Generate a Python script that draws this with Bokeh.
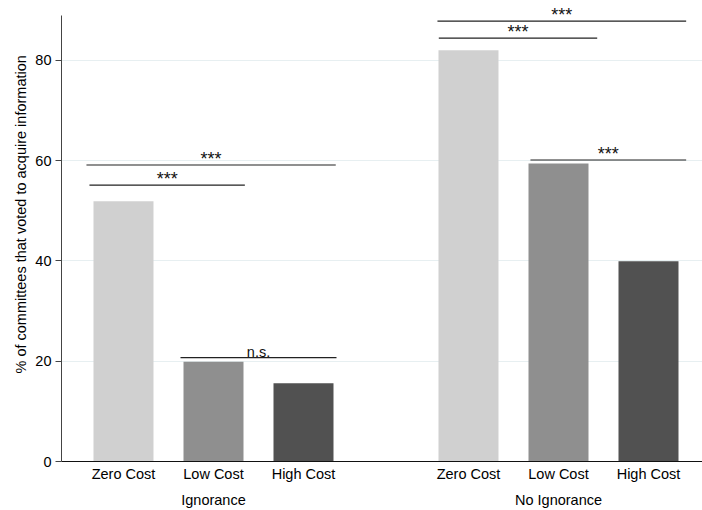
from bokeh.plotting import figure
from bokeh.models import Range1d, FixedTicker, LinearAxis, Title, ColumnDataSource
from bokeh.core.properties import value
from bokeh.embed import file_html
from bokeh.resources import INLINE

# ---- data ----
groups = ["Ignorance", "No Ignorance"]
costs = ["Zero Cost", "Low Cost", "High Cost"]
ignorance_pct = [51.9, 19.9, 15.6]
no_ignorance_pct = [82.0, 59.4, 39.9]
y_ticks = [0, 20, 40, 60, 80]
y_axis_top = 88.96
y_label = "% of committees that voted to acquire information"

# significance brackets (x in slot units, y in %)
sig_x0 = [3.73, 3.53, 9.80, 26.93, 27.02, 33.13]
sig_x1 = [14.09, 20.15, 20.20, 43.51, 37.58, 43.51]
sig_y = [55.1, 59.1, 20.7, 87.8, 84.4, 60.1]
sig_text = ["***", "***", "n.s.", "***", "***", "***"]

# ---- layout (slot units) ----
SLOT = 6
GAP = 5
BAR_W = 4
colors = ["#d0d0d0", "#8f8f8f", "#515151"]
FONT = "Liberation Sans"

xs, tops, fills, labels = [], [], [], {}
group_centers = {}
for g, vals in enumerate([ignorance_pct, no_ignorance_pct]):
    base = g * (len(costs) * SLOT + GAP)
    for i, v in enumerate(vals):
        pos = base + SLOT * (i + 1)
        xs.append(pos)
        tops.append(v)
        fills.append(colors[i])
        labels[pos] = costs[i]
    group_centers[base + SLOT * 2] = groups[g]

p = figure(width=702, height=510, x_range=Range1d(1.8667, 44.6), y_range=Range1d(0, 90.9),
           output_backend="svg", toolbar_location=None,
           min_border_left=61, min_border_right=0, min_border_top=5, min_border_bottom=49,
           x_axis_location=None)
p.outline_line_color = None
p.background_fill_color = "white"
p.border_fill_color = "white"

p.xgrid.visible = False
p.ygrid.ticker = FixedTicker(ticks=y_ticks[1:])
p.ygrid.grid_line_color = "#e7eff1"
p.ygrid.grid_line_width = 1

p.vbar(x=xs, top=tops, width=BAR_W, fill_color=fills, line_color=None)

# y axis
ya = p.yaxis[0]
ya.bounds = (0, y_axis_top)
ya.ticker = FixedTicker(ticks=y_ticks)
ya.minor_tick_line_color = None
ya.major_tick_in = 0
ya.major_tick_out = 6
ya.axis_line_color = "#444444"
ya.major_tick_line_color = "#444444"
ya.major_label_standoff = 4
ya.major_label_text_font = FONT
ya.major_label_text_font_size = "14.5px"
ya.major_label_text_color = "black"

# x axis: cost labels
xa = LinearAxis(ticker=FixedTicker(ticks=xs), major_label_overrides=labels)
xa.major_tick_line_color = None
xa.major_tick_in = 0
xa.major_tick_out = 0
xa.minor_tick_line_color = None
xa.minor_tick_in = 0
xa.minor_tick_out = 0
xa.axis_line_color = "#111111"
xa.major_label_standoff = 4
xa.major_label_text_font = FONT
xa.major_label_text_font_size = "14.5px"
xa.major_label_text_color = "black"
p.add_layout(xa, "below")

# x axis: group labels
ga = LinearAxis(ticker=FixedTicker(ticks=list(group_centers.keys())), major_label_overrides=group_centers)
ga.major_tick_line_color = None
ga.major_tick_in = 0
ga.major_tick_out = 0
ga.minor_tick_line_color = None
ga.minor_tick_in = 0
ga.minor_tick_out = 0
ga.axis_line_color = None
ga.major_label_standoff = 7
ga.major_label_text_font = FONT
ga.major_label_text_font_size = "14.5px"
ga.major_label_text_color = "black"
p.add_layout(ga, "below")

# significance brackets
p.segment(x0=sig_x0, y0=sig_y, x1=sig_x1, y1=sig_y, line_color="#222222", line_width=1.2)
star_idx = [i for i, t in enumerate(sig_text) if t == "***"]
ns_idx = [i for i, t in enumerate(sig_text) if t != "***"]
star_src = ColumnDataSource(dict(x=[(sig_x0[i] + sig_x1[i]) / 2 for i in star_idx],
                                 y=[sig_y[i] for i in star_idx],
                                 t=[sig_text[i] for i in star_idx]))
ns_src = ColumnDataSource(dict(x=[(sig_x0[i] + sig_x1[i]) / 2 for i in ns_idx],
                               y=[sig_y[i] for i in ns_idx],
                               t=[sig_text[i] for i in ns_idx]))
p.text(x="x", y="y", text="t", source=star_src, text_align="center", text_baseline="alphabetic",
       y_offset=-6, text_font=value(FONT), text_font_size="18px", text_color="#111111")
p.text(x="x", y="y", text="t", source=ns_src, text_align="center", text_baseline="alphabetic",
       y_offset=-6, text_font=value(FONT), text_font_size="14.5px", text_color="#111111")

# y-axis title
p.add_layout(Title(text=y_label, align="left", offset=88, vertical_align="middle", standoff=6,
                   text_font=FONT, text_font_size="14.5px", text_font_style="normal",
                   text_color="black"), "left")

open("out.html", "w").write(file_html(p, INLINE))
